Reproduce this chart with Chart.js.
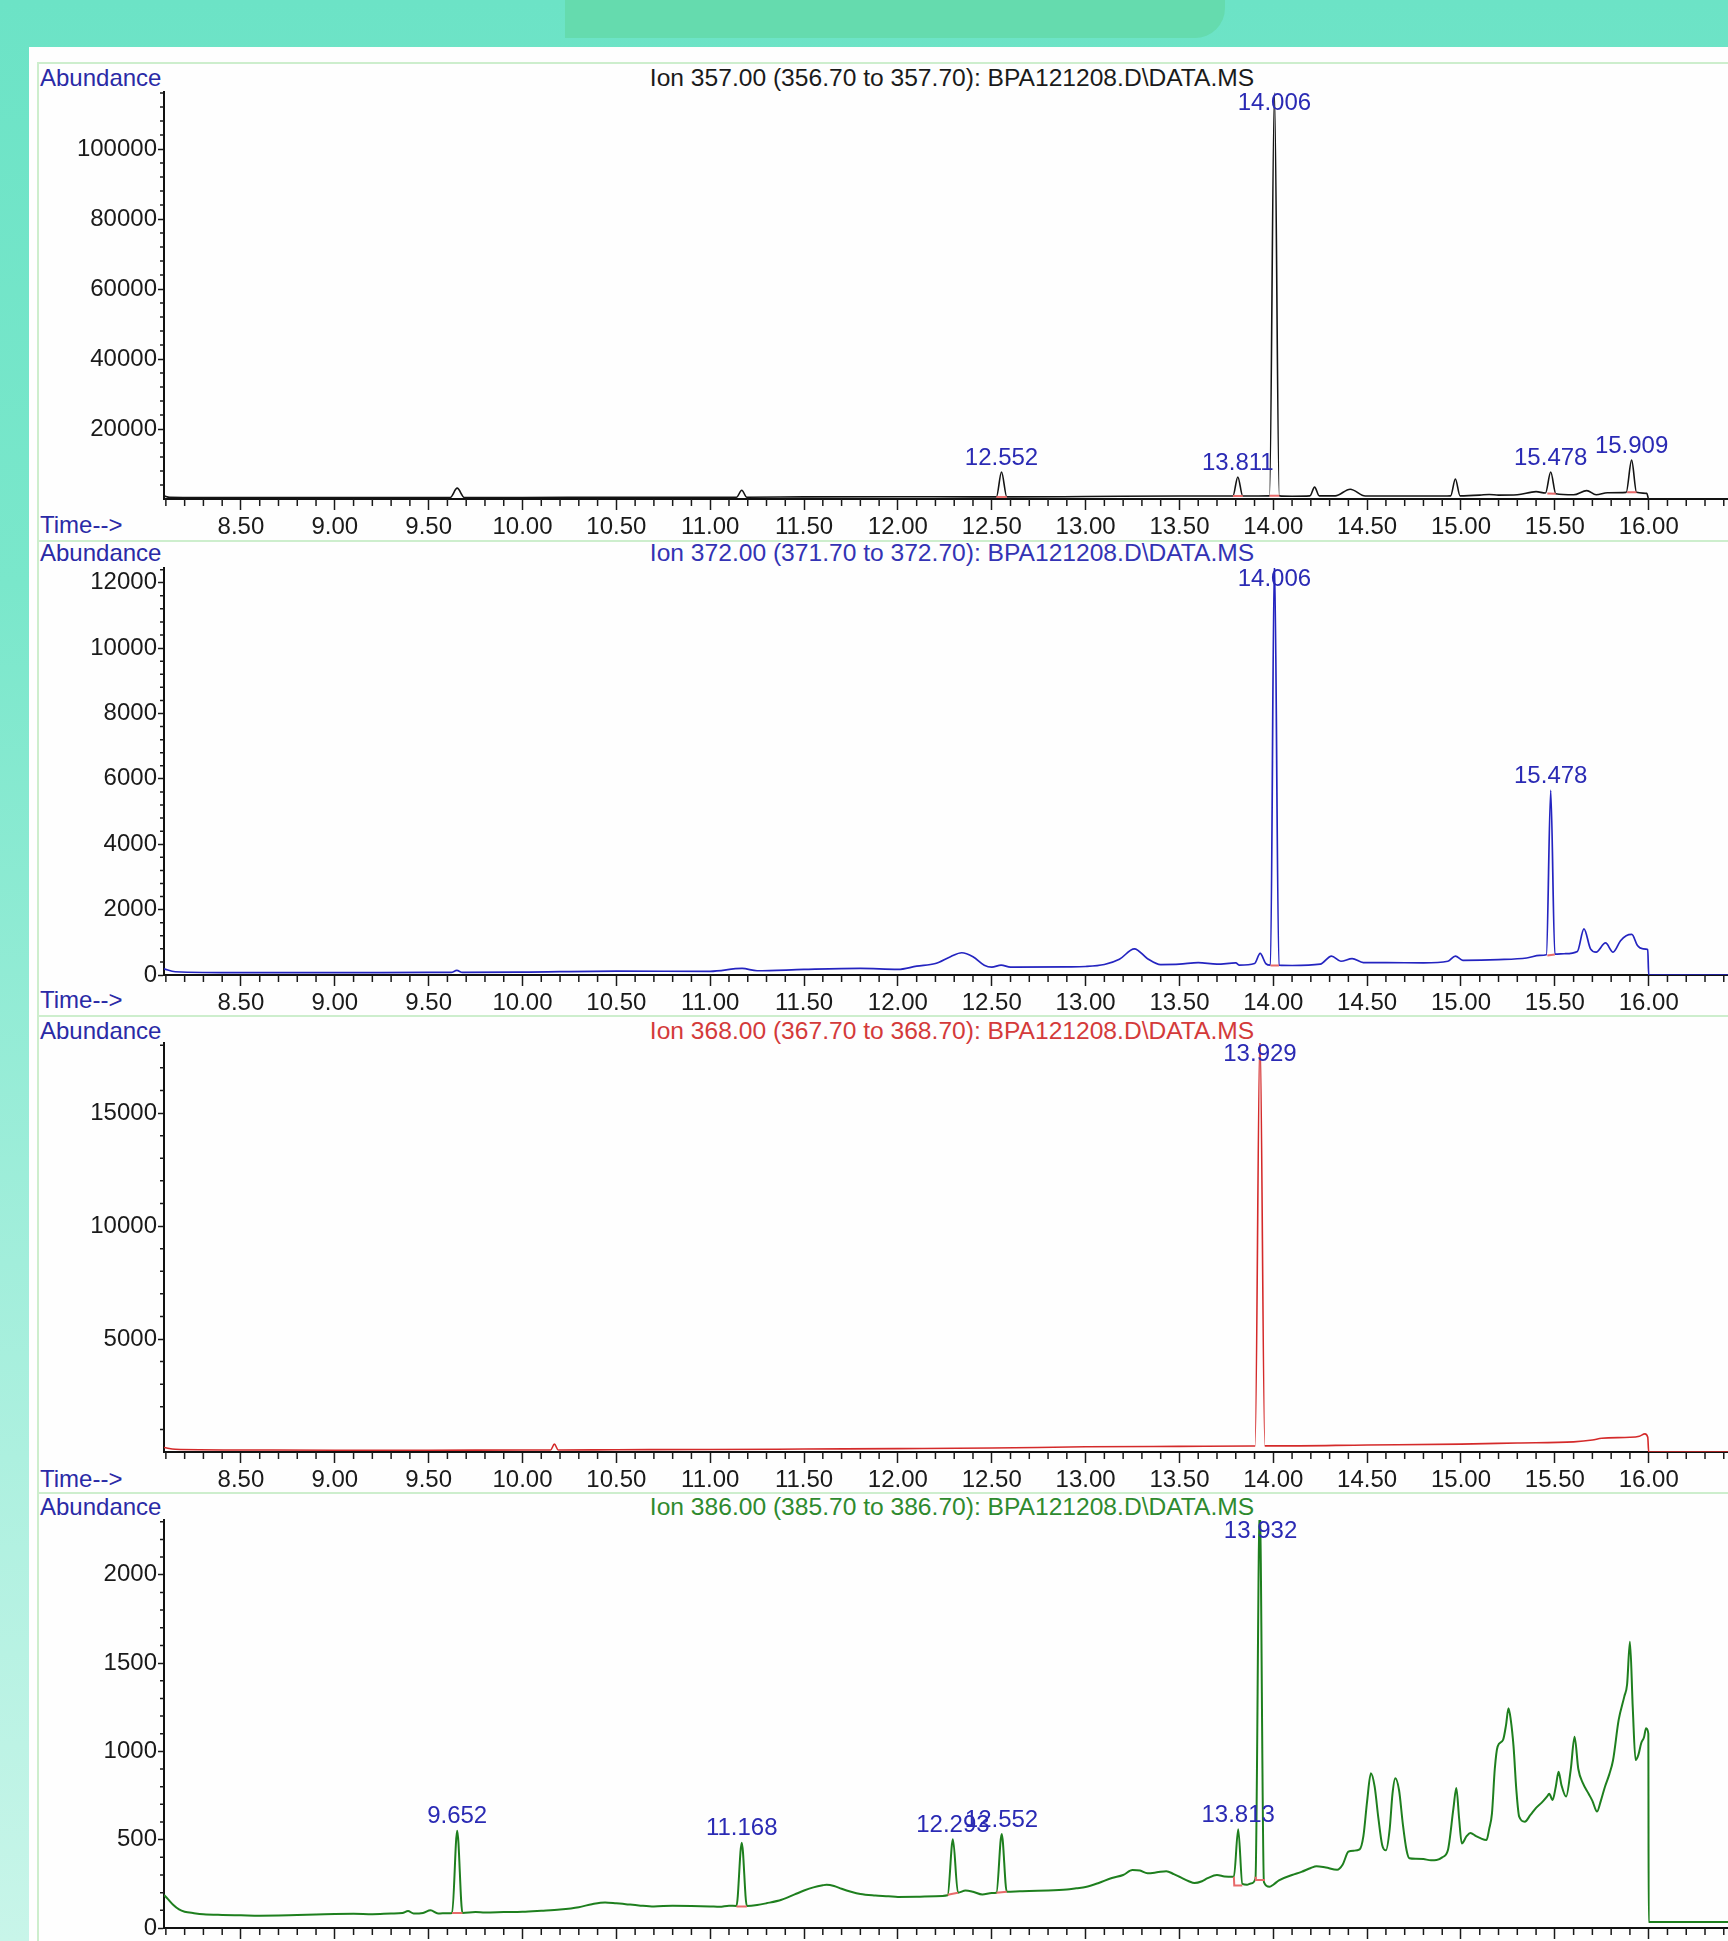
<!DOCTYPE html>
<html><head><meta charset="utf-8">
<script src="https://cdn.jsdelivr.net/npm/chart.js@4.4.1/dist/chart.umd.min.js"></script>
<style>
html,body{margin:0;padding:0;width:1728px;height:1941px;overflow:hidden;}
body{position:relative;background:linear-gradient(180deg,#6ce3c6 0%,#7ae7cb 30%,#a2eedb 65%,#c8f5e9 100%);font-family:"Liberation Sans",Arial,sans-serif;}
#tab{position:absolute;left:565px;top:-30px;width:660px;height:68px;background:#65dbae;border-radius:0 0 30px 0;}
#sheet{position:absolute;left:29px;top:47px;right:0;bottom:0;background:#fefefe;}
.hl{position:absolute;left:37px;right:0;height:2px;background:#cdeecd;}
.vl{position:absolute;left:37px;top:62px;bottom:0;width:2px;background:#cdeecd;}
.txt{position:absolute;font-size:24px;line-height:28px;white-space:nowrap;}
.ab{left:40px;color:#2a2aa6;}
.ttl{left:952px;transform:translateX(-50%);font-size:24.6px;}
canvas{position:absolute;left:0;}
</style></head>
<body>
<div id="tab"></div>
<div id="sheet"></div>
<div class="hl" style="top:62px"></div>
<div class="hl" style="top:540px"></div>
<div class="hl" style="top:1015px"></div>
<div class="hl" style="top:1492px"></div>
<div class="vl"></div>

<div class="txt ab" style="top:64px">Abundance</div>
<div class="txt ttl" style="top:64px;color:#1a1a1a">Ion 357.00 (356.70 to 357.70): BPA121208.D\DATA.MS</div>
<div class="txt ab" style="top:511px">Time--&gt;</div>

<div class="txt ab" style="top:539px">Abundance</div>
<div class="txt ttl" style="top:539px;color:#3333b4">Ion 372.00 (371.70 to 372.70): BPA121208.D\DATA.MS</div>
<div class="txt ab" style="top:986px">Time--&gt;</div>

<div class="txt ab" style="top:1017px">Abundance</div>
<div class="txt ttl" style="top:1017px;color:#d43a3a">Ion 368.00 (367.70 to 368.70): BPA121208.D\DATA.MS</div>
<div class="txt ab" style="top:1465px">Time--&gt;</div>

<div class="txt ab" style="top:1493px">Abundance</div>
<div class="txt ttl" style="top:1493px;color:#2e8a2e">Ion 386.00 (385.70 to 386.70): BPA121208.D\DATA.MS</div>

<canvas id="c1"></canvas>
<canvas id="c2"></canvas>
<canvas id="c3"></canvas>
<canvas id="c4"></canvas>

<script>
// ---------- DATA ----------
const xMajorTicks = [8.5, 9.0, 9.5, 10.0, 10.5, 11.0, 11.5, 12.0, 12.5, 13.0, 13.5, 14.0, 14.5, 15.0, 15.5, 16.0];

// Ion 357 trace: [time (min), abundance]
const trace357 = [
 [8.09,900],[8.12,500],[8.5,400],[9.0,400],[9.5,450],[9.615,450],[9.652,3100],[9.69,450],
 [10.0,450],[10.5,500],[11.0,500],[11.14,500],[11.168,2500],[11.195,500],[11.5,600],[12.0,650],
 [12.4,600],[12.525,600],[12.552,7700],[12.58,600],[13.0,700],[13.5,850],[13.785,850],[13.811,6300],
 [13.837,850],[13.98,900],[14.006,116000],[14.032,900],[14.1,800],[14.195,900],[14.22,3400],[14.245,900],
 [14.33,900],[14.41,2800],[14.49,850],[14.9,850],[14.945,900],[14.97,5700],[14.995,900],[15.1,1100],
 [15.15,1300],[15.2,1100],[15.3,1200],[15.4,2100],[15.45,1700],[15.478,7700],[15.505,1500],[15.6,1200],
 [15.67,2400],[15.72,1200],[15.78,1800],[15.88,1900],[15.909,11100],[15.935,1900],[15.99,1600],[16.0,0],[16.4225,0]
];
// Ion 372 trace
const trace372 = [
 [8.09,190],[8.15,100],[8.5,70],[9.0,70],[9.5,80],[9.62,80],[9.65,140],[9.68,80],[10.0,90],
 [10.5,120],[11.0,110],[11.17,200],[11.25,130],[11.5,170],[11.8,200],[12.0,170],[12.1,270],[12.2,350],
 [12.28,560],[12.34,680],[12.4,560],[12.46,300],[12.5,240],[12.55,300],[12.6,240],[12.9,250],[13.0,260],
 [13.1,320],[13.18,480],[13.26,800],[13.33,500],[13.4,320],[13.5,330],[13.6,380],[13.7,330],[13.8,370],
 [13.82,300],[13.9,350],[13.93,660],[13.96,350],[13.985,300],[14.006,12800],[14.03,300],[14.1,290],
 [14.25,330],[14.31,580],[14.36,420],[14.42,500],[14.48,380],[14.6,380],[14.8,370],[14.93,420],
 [14.97,580],[15.01,450],[15.2,470],[15.35,520],[15.42,600],[15.455,620],[15.478,5650],[15.5,640],
 [15.55,650],[15.62,720],[15.655,1410],[15.69,800],[15.72,700],[15.77,980],[15.81,700],[15.85,1050],
 [15.88,1200],[15.91,1240],[15.94,900],[15.97,800],[15.995,780],[16.0,0],[16.4225,0]
];
// Ion 368 trace
const trace368 = [
 [8.09,200],[8.15,120],[8.5,90],[9.0,80],[9.5,80],[10.0,90],[10.15,90],[10.17,350],[10.19,90],
 [10.5,100],[11.0,110],[11.5,130],[12.0,150],[12.5,175],[13.0,230],[13.5,250],[13.9,265],[13.903,265],
 [13.929,18500],[13.955,270],[14.0,270],[14.5,310],[15.0,350],[15.3,400],[15.6,450],[15.7,530],
 [15.75,610],[15.9,650],[15.95,700],[15.98,800],[15.995,650],[16.0,0],[16.4225,0]
];
// Ion 386 trace
const trace386 = [
 [8.09,187],[8.11,165],[8.14,130],[8.17,105],[8.2,92],[8.25,84],[8.3,78],[8.4,74],[8.5,72],[8.6,70],
 [8.7,71],[8.8,74],[8.9,76],[9.0,79],[9.1,80],[9.2,78],[9.3,82],[9.36,85],[9.39,96],[9.42,82],[9.47,85],
 [9.51,100],[9.55,82],[9.6,84],[9.625,85],[9.652,551],[9.68,85],[9.75,90],[9.8,88],[9.9,90],[10.0,92],
 [10.1,98],[10.2,105],[10.3,118],[10.37,135],[10.44,145],[10.5,140],[10.55,135],[10.62,128],[10.7,122],
 [10.8,126],[10.9,125],[11.0,122],[11.05,120],[11.1,126],[11.14,125],[11.168,483],[11.195,125],[11.25,130],
 [11.3,140],[11.38,160],[11.45,190],[11.5,212],[11.55,230],[11.6,242],[11.62,245],[11.66,238],[11.7,222],
 [11.75,205],[11.8,192],[11.88,184],[11.95,180],[12.0,176],[12.1,177],[12.2,180],[12.265,185],[12.293,502],
 [12.32,200],[12.36,212],[12.4,205],[12.45,190],[12.5,198],[12.525,200],[12.553,532],[12.58,205],[12.65,208],
 [12.7,210],[12.8,212],[12.9,218],[12.95,225],[13.0,232],[13.07,255],[13.14,283],[13.2,300],[13.25,328],
 [13.29,325],[13.33,310],[13.38,315],[13.43,322],[13.47,305],[13.5,290],[13.55,265],[13.58,255],[13.62,265],
 [13.65,282],[13.7,300],[13.74,292],[13.79,290],[13.813,559],[13.835,250],[13.86,245],[13.88,252],[13.905,280],
 [13.928,2400],[13.95,260],[13.98,234],[14.0,245],[14.03,270],[14.1,300],[14.15,318],[14.2,340],[14.23,350],
 [14.28,342],[14.34,330],[14.37,360],[14.4,432],[14.43,438],[14.46,445],[14.48,520],[14.5,720],[14.52,876],
 [14.54,800],[14.56,620],[14.58,470],[14.6,440],[14.62,560],[14.635,760],[14.65,848],[14.67,780],[14.69,590],
 [14.71,440],[14.725,395],[14.76,392],[14.8,390],[14.84,384],[14.87,385],[14.9,400],[14.93,440],[14.96,680],
 [14.975,793],[14.99,620],[15.004,479],[15.03,520],[15.05,538],[15.08,520],[15.1,510],[15.136,498],[15.15,560],
 [15.165,649],[15.18,900],[15.195,1027],[15.224,1065],[15.24,1150],[15.253,1244],[15.265,1180],[15.28,1027],
 [15.295,780],[15.31,630],[15.34,602],[15.37,640],[15.4,680],[15.43,710],[15.458,744],[15.47,760],[15.488,725],
 [15.505,800],[15.52,885],[15.535,810],[15.56,744],[15.585,900],[15.605,1083],[15.625,900],[15.65,819],
 [15.68,760],[15.7,720],[15.725,659],[15.745,720],[15.767,800],[15.79,870],[15.81,950],[15.84,1178],
 [15.87,1310],[15.885,1380],[15.9,1621],[15.915,1250],[15.93,951],[15.945,980],[15.96,1046],[15.975,1080],
 [15.986,1131],[15.998,1100],[16.0,34],[16.4225,34]
];

// integration baselines (red marks), each a small polyline of [time, abundance]
const base357 = [
 [[12.525,600],[12.58,600]], [[13.785,850],[13.837,850]], [[13.98,900],[14.032,900]],
 [[15.46,1600],[15.505,1500]], [[15.885,1900],[15.935,1900]]
];
const base372 = [ [[13.985,290],[14.03,290]], [[15.46,600],[15.5,630]] ];
const base368 = [];
const base386 = [
 [[9.625,85],[9.68,85]], [[11.14,122],[11.195,122]], [[12.265,188],[12.32,200]],
 [[12.525,200],[12.58,205]], [[13.79,290],[13.792,240],[13.835,240]], [[13.905,290],[13.907,272],[13.955,272]]
];

// peak retention-time labels
const labels357 = ['12.552','13.811','14.006','15.478','15.909'];
const labels372 = ['14.006','15.478'];
const labels368 = ['13.929'];
const labels386 = ['9.652','11.168','12.293','12.552','13.813','13.932'];

// y tick labels
const yTicks357 = [20000,40000,60000,80000,100000];
const yTicks372 = [0,2000,4000,6000,8000,10000,12000];
const yTicks368 = [5000,10000,15000];
const yTicks386 = [0,500,1000,1500,2000];

// ---------- LAYOUT / STYLE ----------
const X_MIN = 8.09, X_MAX = 16.4225;
const panels = [
 {id:'c1', top:92,   bottom:499,  ymax:116300, minor:4000, yTicks:yTicks357, trace:trace357, base:base357, labels:labels357, color:'#141414', lw:1.6},
 {id:'c2', top:568,  bottom:975,  ymax:12450,  minor:400,  yTicks:yTicks372, trace:trace372, base:base372, labels:labels372, color:'#2424c0', lw:1.7},
 {id:'c3', top:1043, bottom:1452, ymax:18100,  minor:1000, yTicks:yTicks368, trace:trace368, base:base368, labels:labels368, color:'#d42a2a', lw:1.6},
 {id:'c4', top:1520, bottom:1928, ymax:2310,   minor:100,  yTicks:yTicks386, trace:trace386, base:base386, labels:labels386, color:'#1e7f1e', lw:2}
];
const PAD_TOP = 30, XAXIS_H = 50, YAXIS_W = 164;
const FONT = '"Liberation Sans", Arial, sans-serif';
Chart.defaults.font.family = FONT;

function makeDecor(cfg){
  return {
    id:'decor_'+cfg.id,
    afterDatasetsDraw(chart){
      const ctx = chart.ctx, xs = chart.scales.x, ys = chart.scales.y, a = chart.chartArea;
      ctx.save();
      ctx.strokeStyle = '#1a1a1a'; ctx.lineWidth = 1.5;
      ctx.beginPath();
      for (let k = Math.ceil(xs.min*10); k <= Math.floor(xs.max*10); k++){
        if (k % 5 === 0) continue;
        const px = xs.getPixelForValue(k/10);
        ctx.moveTo(px, a.bottom); ctx.lineTo(px, a.bottom + 7);
      }
      const n = Math.floor(ys.max / cfg.minor);
      for (let k = 1; k <= n; k++){
        const v = k * cfg.minor;
        if (cfg.yTicks.includes(v)) continue;
        const py = ys.getPixelForValue(v);
        ctx.moveTo(a.left - 4, py); ctx.lineTo(a.left, py);
      }
      ctx.stroke();
      ctx.fillStyle = '#2a2ab4';
      ctx.font = '24px ' + FONT;
      ctx.textAlign = 'center'; ctx.textBaseline = 'middle';
      cfg.labels.forEach(s => {
        const t = parseFloat(s);
        let apex = 0;
        cfg.trace.forEach(p => { if (Math.abs(p[0]-t) <= 0.02 && p[1] > apex) apex = p[1]; });
        const px = xs.getPixelForValue(t);
        const py = Math.max(a.top + 11, ys.getPixelForValue(apex) - 14);
        ctx.fillText(s, px, py);
      });
      ctx.restore();
    }
  };
}

panels.forEach(cfg => {
  const cv = document.getElementById(cfg.id);
  const h = (cfg.bottom - cfg.top) + PAD_TOP + XAXIS_H;
  cv.width = 1728; cv.height = h;
  cv.style.top = (cfg.top - PAD_TOP) + 'px';
  const baseData = [];
  cfg.base.forEach(seg => {
    seg.forEach(p => baseData.push({x:p[0], y:p[1]}));
    baseData.push({x:seg[seg.length-1][0], y:null});
  });
  new Chart(cv, {
    type:'line',
    data:{datasets:[
      {data: cfg.trace.map(p => ({x:p[0], y:p[1]})), borderColor:cfg.color, borderWidth:cfg.lw, pointRadius:0, cubicInterpolationMode:'monotone', fill:false, order:1},
      {data: baseData, borderColor:'#e86a6a', borderWidth:2, pointRadius:0, tension:0, fill:false, spanGaps:false, order:0}
    ]},
    options:{
      responsive:false, animation:false, events:[],
      layout:{padding:{top:PAD_TOP, left:0, right:0, bottom:0}},
      plugins:{legend:{display:false}, tooltip:{enabled:false}, title:{display:false}},
      scales:{
        x:{
          type:'linear', min:X_MIN, max:X_MAX,
          afterBuildTicks: s => { s.ticks = xMajorTicks.map(v => ({value:v})); },
          afterFit: s => { s.height = XAXIS_H; },
          ticks:{autoSkip:false, maxRotation:0, minRotation:0, padding:3, color:'#1a1a1a', font:{size:24}, callback: v => Number(v).toFixed(2)},
          grid:{drawOnChartArea:false, drawTicks:true, tickLength:11, tickColor:'#1a1a1a', tickWidth:1.5},
          border:{display:true, color:'#111', width:2}
        },
        y:{
          type:'linear', min:0, max:cfg.ymax,
          afterBuildTicks: s => { s.ticks = cfg.yTicks.map(v => ({value:v})); },
          afterFit: s => { s.width = YAXIS_W; },
          ticks:{padding:1, color:'#1a1a1a', font:{size:24}, callback: v => String(v)},
          grid:{drawOnChartArea:false, drawTicks:true, tickLength:6, tickColor:'#1a1a1a', tickWidth:1.5},
          border:{display:true, color:'#111', width:2}
        }
      }
    },
    plugins:[makeDecor(cfg)]
  });
});
</script>
</body></html>
